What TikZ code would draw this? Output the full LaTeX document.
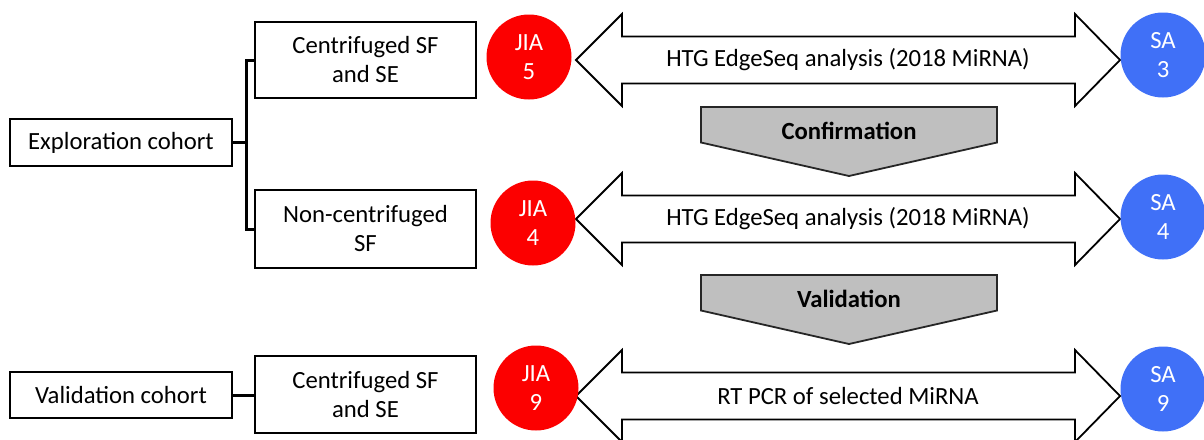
\documentclass[tikz,border=0pt]{standalone}
\usepackage{fontspec}
\setmainfont{Carlito}
\definecolor{jiared}{RGB}{252,0,0}
\definecolor{sablue}{RGB}{64,112,247}
\definecolor{stepgray}{RGB}{191,191,191}
\begin{document}
\begin{tikzpicture}[x=1pt,y=-1pt,
  every node/.style={font=\fontsize{24.7}{29}\selectfont},
  box/.style={draw=black,line width=2pt,fill=white,minimum width=221pt,align=center,inner sep=0pt},
  bracket/.style={draw=black,line width=3pt},
  jia/.style={circle,fill=jiared,text=white,minimum size=85pt,inner sep=0pt,align=center},
  sa/.style={circle,fill=sablue,text=white,minimum size=85pt,inner sep=0pt,align=center},
  dblarrow/.style={draw=black,line width=1.8pt,fill=white,line join=miter},
  steparrow/.style={draw=black!85,line width=1.8pt,fill=stepgray,line join=miter},
  lbl/.style={inner sep=0pt,align=center}]
\useasboundingbox (0,0) rectangle (1204,439);

% left boxes
\node[box,minimum width=222pt,minimum height=47pt] (expl) at (121,142.5) {Exploration cohort};
\node[box,minimum height=76pt] (cen1) at (365.5,60) {Centrifuged SF\\and SE};
\node[box,minimum height=78pt] (non) at (365.5,229) {Non-centrifuged\\SF};
\node[box,minimum width=222pt,minimum height=46pt] (valc) at (121,395) {Validation cohort};
\node[box,minimum height=77pt] (cen2) at (365.5,394.5) {Centrifuged SF\\and SE};

% brackets
\coordinate (bx) at (246,0);
\draw[bracket] (expl.east) -- (expl.east -| bx);
\draw[bracket] (cen1.west) -- (cen1.west -| bx) -- (non.west -| bx) -- (non.west);
\draw[bracket] (valc.east) -- (valc.east -| cen2.west);

% double arrows
\foreach \yy/\nm in {60/a1,219/a2,396/a3}{
  \draw[dblarrow] (576,\yy) -- (622,\yy-46) -- (622,\yy-23.5) -- (1075,\yy-23.5) -- (1075,\yy-46)
    -- (1120,\yy) -- (1075,\yy+46) -- (1075,\yy+23.5) -- (622,\yy+23.5) -- (622,\yy+46) -- cycle;
}
\node[lbl] (t1) at (848,60) {HTG EdgeSeq analysis (2018 MiRNA)};
\node[lbl] (t2) at (848,219) {HTG EdgeSeq analysis (2018 MiRNA)};
\node[lbl] (t3) at (848,396) {RT PCR of selected MiRNA};

% gray step arrows
\foreach \yy in {107,275}{
  \draw[steparrow] (701,\yy) -- (997,\yy) -- (997,\yy+35.5) -- (849,\yy+69) -- (701,\yy+35.5) -- cycle;
}
\node[lbl,font=\fontsize{24.7}{29}\selectfont\bfseries] (conf) at (849,131) {Confirmation};
\node[lbl,font=\fontsize{24.7}{29}\selectfont\bfseries] (vali) at (849,299) {Validation};

% circles
\node[jia] (j5) at (529,57) {JIA\\5};
\node[jia] (j4) at (533,223) {JIA\\4};
\node[jia] (j9) at (536,388) {JIA\\9};
\node[sa] (s3) at (1163,55) {SA\\3};
\node[sa] (s4) at (1163,217) {SA\\4};
\node[sa] (s9) at (1163,389) {SA\\9};
\end{tikzpicture}
\end{document}
